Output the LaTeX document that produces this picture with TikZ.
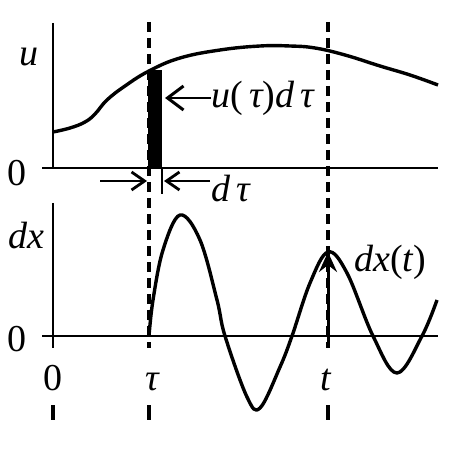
\documentclass[tikz,border=0pt]{standalone}
\usepackage{fontspec}
\setmainfont{Liberation Serif}
\usetikzlibrary{arrows.meta}
\begin{document}
\begin{tikzpicture}[x=1pt,y=-1pt,
  axis/.style={line width=2.8pt},
  curve/.style={line width=3.4pt, line join=round},
  dashline/.style={line width=3.4pt, dash pattern=on 10pt off 6pt},
  lbl/.style={font=\fontsize{38}{44}\selectfont\itshape, inner sep=0pt},
  openarrow/.style={line width=2.8pt, -{Straight Barb[length=13pt,width=18pt,line width=2.8pt]}},
  bigarrow/.style={line width=2.8pt, -{Straight Barb[length=16pt,width=24pt,line width=3pt]}}
]
\useasboundingbox (0,0) rectangle (473,470);
% coordinates
\coordinate (tyT) at (53,23);
\coordinate (oT) at (53,168);
\coordinate (xL) at (42,168);
\coordinate (xR) at (438,168);
\coordinate (tyB) at (53,203);
\coordinate (oB) at (53,336);
\coordinate (bL) at (42,336);
\coordinate (bR) at (438,336);
% top axes
\draw[axis] (tyT) -- (oT);
\draw[axis] (xL) -- (xR);
% bottom axes
\draw[axis] (tyB) -- (oB) -- (53,348);
\draw[axis] (bL) -- (bR);
% dashed verticals
\coordinate (tauTop) at (149,22);
\coordinate (tauBot) at (149,348);
\coordinate (tTop) at (328,22);
\coordinate (tBot) at (328,348);
\draw[dashline] (tauTop) -- (tauBot);
\draw[dashline] (tTop) -- (tBot);
\draw[line width=3.4pt] (53,405) -- (53,420);
\draw[line width=3.4pt] (149,405) -- (149,420);
\draw[line width=3.4pt] (328,405) -- (328,420);
% bar
\fill (148,70) rectangle (162,168);
\draw[line width=2.6pt] (162,168) -- (162,194);
% top curve
\draw[curve] plot[smooth, tension=0.7] coordinates {(53,132) (70,128) (85,122) (95,114) (107,100) (125,86) (149,71) (180,58) (220,50) (260,46) (290,46) (315,48) (345,55) (380,66) (410,75) (438,85)};
% bottom curve
\draw[curve] plot[smooth, tension=0.6] coordinates {(149,336) (153,300) (163,250) (180,215) (200,240) (217,300) (225,336) (247,397) (260,408) (280,367) (292,336) (310,283) (328,252) (347,273) (373,336) (397,373) (422,336) (437,300)};
% arrows
\node[lbl, anchor=west] (ulab) at (211,98) {u\upshape(\,\itshape τ\upshape)\itshape d\,τ};
\draw[bigarrow] (ulab.west) -- (165,98);
\coordinate (dl) at (100,181);
\coordinate (dr) at (210,181);
\draw[openarrow] (dl) -- (147,181);
\draw[openarrow] (dr) -- (164,181);
\node[lbl, anchor=west] (dtau) at (211,189) {d\,τ};
\coordinate (dxa) at (328,348);
\draw[line width=3pt, -{Stealth[length=20pt,width=18pt,inset=7pt]}] (dxa) -- (328,252);
\node[lbl, anchor=west] (dxt) at (354,262) {dx\upshape(\itshape t\upshape)};
% labels
\node[lbl] (u) at (29,57) {u};
\node[lbl, font=\fontsize{38}{44}\selectfont] (z1) at (17,173) {0};
\node[lbl] (dx) at (26,236) {dx};
\node[lbl, font=\fontsize{38}{44}\selectfont] (z2) at (17,339) {0};
\node[lbl, font=\fontsize{38}{44}\selectfont] (z3) at (53,378) {0};
\node[lbl] (tau) at (152,382) {τ};
\node[lbl] (t) at (326,380) {t};
\end{tikzpicture}
\end{document}
